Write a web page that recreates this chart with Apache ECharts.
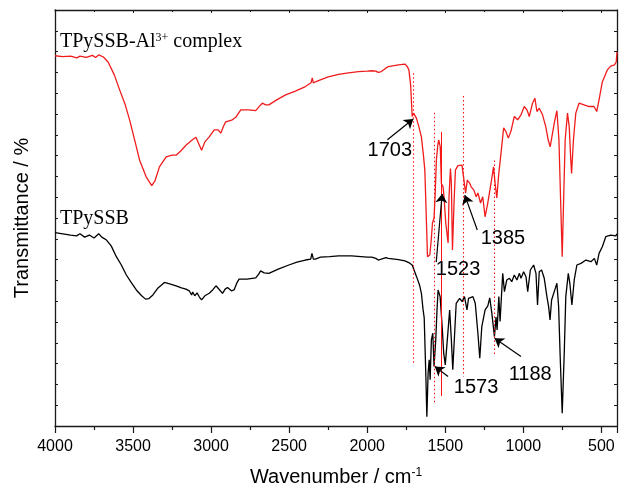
<!DOCTYPE html>
<html><head><meta charset="utf-8">
<script src="https://cdn.jsdelivr.net/npm/echarts@6/dist/echarts.min.js"></script>
<style>html,body{margin:0;padding:0;background:#fff}#c{width:620px;height:497px}</style>
</head><body><div id="c"></div>
<script>
// ---- data (wavenumber in cm-1, transmittance in arbitrary % units) ----
const redX = [4000,3950,3900,3860,3840,3800,3760,3740,3720,3690,
3660,3620,3586,3550,3522,3490,3458,3416,3380,3360,
3331,3288,3250,3224,3190,3161,3120,3097,3075,3061,
3040,3012,2980,2955,2938,2920,2906,2864,2840,2810,
2760,2714,2690,2672,2650,2630,2580,2523,2460,2396,
2360,2352,2345,2332,2300,2250,2184,2120,2056,2000,
1971,1945,1929,1910,1885,1865,1800,1759,1745,1733,
1722,1712,1703,1695,1685,1670,1653,1640,1631,1622,
1614,1605,1599,1590,1582,1572,1565,1557,1548,1542,
1532,1525,1514,1508,1497,1482,1476,1467,1461,1454,
1444,1435,1419,1393,1382,1370,1359,1344,1334,1317,
1302,1291,1274,1260,1245,1228,1207,1191,1181,1170,
1157,1143,1126,1111,1096,1079,1058,1036,1015,994,
977,962,941,926,913,898,877,856,841,828,
813,798,785,772,760,751,743,732,717,706,
696,691,679,664,643,611,579,547,530,515,
494,462,440,416,405,400];
const redY = [89.0,88.8,88.9,88.5,88.9,88.6,89.1,88.6,89.2,88.7,
87.5,84.4,80.8,77.2,73.6,68.8,63.9,59.9,57.8,58.9,
62.3,64.7,65.1,65.1,66.3,67.5,68.8,69.4,67.5,66.3,
68.3,69.5,71.2,71.2,70.4,72.1,73.1,73.6,74.3,76.0,
76.0,75.8,76.9,77.6,77.2,77.2,78.4,79.6,80.5,81.6,
82.5,83.7,82.5,82.7,83.2,83.9,84.5,84.9,85.2,85.3,
85.4,85.3,85.0,85.2,85.9,86.4,86.8,87.0,86.5,85.6,
82.0,74.4,75.2,75.6,74.0,72.1,69.5,65.1,61.5,50.7,
40.7,40.4,41.1,44.7,48.8,50.0,55.5,63.9,67.5,68.8,
67.1,58.3,57.5,55.1,48.8,44.0,55.1,61.9,58.4,42.3,
53.6,61.5,62.6,62.7,59.6,56.0,59.1,58.4,57.5,56.7,
55.1,56.0,53.6,55.1,50.3,53.6,58.3,62.3,58.4,54.8,
60.8,65.6,71.7,70.7,69.2,70.9,74.4,73.6,74.8,76.8,
76.0,74.4,77.6,78.8,75.6,76.4,74.8,71.9,68.8,67.1,
70.4,73.6,75.8,68.8,52.7,40.7,52.7,68.8,75.2,71.9,
63.9,60.7,68.8,75.2,77.6,77.2,76.8,76.8,75.6,78.4,
82.7,85.6,86.5,86.8,87.5,89.9];

const blackX = [4000,3950,3900,3862,3840,3810,3780,3750,3720,3700,
3670,3640,3607,3575,3543,3510,3479,3445,3420,3400,
3373,3340,3299,3260,3224,3190,3161,3140,3125,3118,
3105,3090,3075,3061,3040,3012,2990,2969,2945,2927,
2910,2895,2870,2853,2835,2821,2770,2714,2695,2683,
2660,2630,2570,2502,2450,2396,2362,2354,2345,2332,
2300,2240,2184,2100,2000,1971,1945,1929,1910,1880,
1865,1800,1759,1730,1712,1700,1684,1665,1653,1642,
1635,1631,1624,1618,1610,1603,1597,1589,1580,1572,
1561,1553,1546,1533,1520,1510,1500,1487,1472,1461,
1452,1440,1430,1408,1392,1377,1361,1351,1323,1308,
1291,1279,1266,1245,1228,1215,1202,1185,1175,1168,
1157,1149,1132,1121,1106,1089,1074,1058,1041,1025,
1015,998,983,972,955,934,919,909,898,883,
866,849,838,829,819,802,785,774,764,751,
738,728,712,702,689,674,657,631,599,567,
545,530,515,494,472,440,408,400];
const blackY = [46.5,46.2,45.9,45.7,46.2,45.4,45.9,45.2,46.2,45.4,
44.7,43.3,40.7,38.7,36.3,34.4,32.7,31.3,30.5,30.6,
31.5,33.2,34.5,34.1,33.7,33.2,32.9,32.5,31.5,32.2,
31.3,32.0,31.0,30.3,31.3,31.9,32.7,33.7,32.7,31.9,
32.9,33.3,32.5,32.7,34.4,35.3,35.3,35.6,36.5,37.3,
36.8,36.7,37.7,38.7,39.4,39.9,40.1,41.5,40.1,40.1,
40.6,40.7,40.9,40.9,40.6,40.6,40.3,39.9,40.1,40.5,
40.3,40.0,39.7,39.2,38.7,37.5,35.9,33.9,31.9,27.9,
26.0,20.7,11.5,2.2,12.7,15.9,11.1,20.7,22.3,14.3,
20.7,27.9,32.7,31.1,23.9,17.5,14.7,20.7,27.9,20.7,
13.5,22.3,29.5,30.7,29.9,31.1,27.9,30.7,31.1,29.5,
22.3,16.3,23.9,27.9,28.8,30.8,27.2,21.5,26.2,23.1,
31.1,25.1,36.7,32.3,35.1,35.5,34.7,36.3,35.1,36.7,
35.5,37.1,35.9,32.3,37.5,38.7,36.7,29.1,37.1,37.5,
35.5,31.1,28.7,25.5,30.3,32.3,34.3,28.7,16.7,3.1,
17.5,31.1,36.7,34.3,29.1,35.1,38.7,39.1,39.9,39.5,
40.3,38.7,41.5,43.1,45.5,45.9,45.7,46.2];

const xTickLabels = [4000,3500,3000,2500,2000,1500,1000,500];
const peakLabels = ['1703','1573','1523','1385','1188'];
const peakWavenumbers = [1703,1573,1523,1385,1188];
const guideTop = [84.8,75.3,70.7,79.3,63.8];
const guideBottom = [15.1,5.3,7.2,11.9,17.1];
const arrowFrom = [[1871,68.8],[1482,11.9],[1558,39.4],[1295,47.1],[1015,16.7]];
const arrowTo = [[1705,73.8],[1567,14.3],[1520,55.8],[1375,55.5],[1184,21.1]];
const peakLabelAt = [[1855,66.3],[1303,9.25],[1418,37.7],[1131,45.0],[956,12.3]];
const seriesLabels = ['TPySSB-Al{sup|3+} complex','TPySSB'];
const seriesLabelAt = [[3968,92.3],[3968,49.8]];

const zip = (xs, ys) => xs.map((x, i) => [x, ys[i]]);
const SANS = '"Liberation Sans", Arial, sans-serif';
const SERIF = '"Liberation Serif", "Times New Roman", serif';
const AX = '#1a1a1a';
const GUIDE = '#ff1010';

const chart = echarts.init(document.getElementById('c'), null, {renderer: 'canvas'});

const dottedGuides = [], solidGuides = [];
peakWavenumbers.forEach((w, i) => {
  const seg = [{coord: [w, guideTop[i]]}, {coord: [w, guideBottom[i]]}];
  (peakLabels[i] === '1523' ? solidGuides : dottedGuides).push(seg);
});
const arrows = arrowFrom.map((f, i) => [{coord: f}, {coord: arrowTo[i]}]);

const peakPts = peakLabels.map((t, i) => ({
  coord: peakLabelAt[i], value: t,
  label: {show: true, position: 'inside', formatter: t, fontSize: 20, fontFamily: SANS, color: '#000'}
}));
const namePts = seriesLabels.map((t, i) => ({
  coord: seriesLabelAt[i], value: t,
  label: {show: true, position: 'right', distance: 0, formatter: t, fontSize: 20, fontFamily: SERIF, color: '#000',
    rich: {sup: {fontSize: 12, fontFamily: SERIF, color: '#000', verticalAlign: 'top', lineHeight: 14}}}
}));

const xCommon = {
  type: 'value', inverse: true, min: 400, max: 4000, splitNumber: 7,
  splitLine: {show: false},
  axisLine: {show: true, onZero: false, lineStyle: {color: AX, width: 1.3}},
};
const yCommon = {
  type: 'value', min: 0, max: 100, interval: 5,
  splitLine: {show: false},
  axisLabel: {show: false},
  axisLine: {show: true, onZero: false, lineStyle: {color: AX, width: 1.3}},
  axisTick: {show: true, inside: true, length: 3, lineStyle: {color: AX}}
};

chart.setOption({
  animation: false,
  backgroundColor: '#fff',
  grid: {left: 55, right: 1, top: 10, bottom: 71},
  xAxis: [
    Object.assign({}, xCommon, {
      position: 'bottom',
      axisTick: {show: true, inside: false, length: 7, lineStyle: {color: AX, width: 1.2}},
      minorTick: {show: true, splitNumber: 2, length: 4, lineStyle: {color: AX, width: 1.2}},
      axisLabel: {show: true, fontSize: 16, fontFamily: SANS, color: '#000', margin: 13,
        formatter: v => xTickLabels.indexOf(v) >= 0 ? String(v) : ''},
      name: 'Wavenumber / cm{sup|-1}', nameLocation: 'middle', nameGap: 41,
      nameTextStyle: {fontSize: 20, fontFamily: SANS, color: '#000',
        rich: {sup: {fontSize: 12, fontFamily: SANS, color: '#000', verticalAlign: 'top', lineHeight: 14}}}
    }),
    Object.assign({}, xCommon, {
      position: 'top',
      axisTick: {show: true, inside: true, length: 3, lineStyle: {color: AX}},
      minorTick: {show: true, splitNumber: 2, length: 2, lineStyle: {color: AX}},
      axisLabel: {show: false}
    })
  ],
  yAxis: [
    Object.assign({}, yCommon, {
      position: 'left',
      name: 'Transmittance / %', nameLocation: 'middle', nameGap: 23,
      nameTextStyle: {fontSize: 20, fontFamily: SANS, color: '#000'}
    }),
    Object.assign({}, yCommon, {position: 'right'})
  ],
  series: [
    {
      name: 'guidesDotted', type: 'line', xAxisIndex: 0, yAxisIndex: 0, data: [], z: 2,
      markLine: {silent: true, symbol: ['none', 'none'], label: {show: false},
        lineStyle: {color: GUIDE, width: 1.1, type: [1.5, 2.5], opacity: 1}, data: dottedGuides}
    },
    {
      name: 'guidesSolid', type: 'line', xAxisIndex: 0, yAxisIndex: 0, data: [], z: 2,
      markLine: {silent: true, symbol: ['none', 'none'], label: {show: false},
        lineStyle: {color: GUIDE, width: 1, type: 'solid', opacity: 1}, data: solidGuides}
    },
    {
      name: 'TPySSB', type: 'line', xAxisIndex: 0, yAxisIndex: 0,
      data: zip(blackX, blackY), showSymbol: false, symbol: 'none',
      lineStyle: {color: '#000', width: 1.3}, z: 3,
      markLine: {silent: true, symbol: ['none', 'arrow'], symbolSize: 9, label: {show: false},
        lineStyle: {color: '#000', width: 1.2, type: 'solid'}, data: arrows, z: 6},
      markPoint: {symbol: 'circle', symbolSize: 0, silent: true, data: peakPts.concat(namePts)}
    },
    {
      name: 'TPySSB-Al', type: 'line', xAxisIndex: 0, yAxisIndex: 0,
      data: zip(redX, redY), showSymbol: false, symbol: 'none',
      lineStyle: {color: '#f01c1c', width: 1.3}, z: 4
    }
  ]
});
</script>
</body></html>
